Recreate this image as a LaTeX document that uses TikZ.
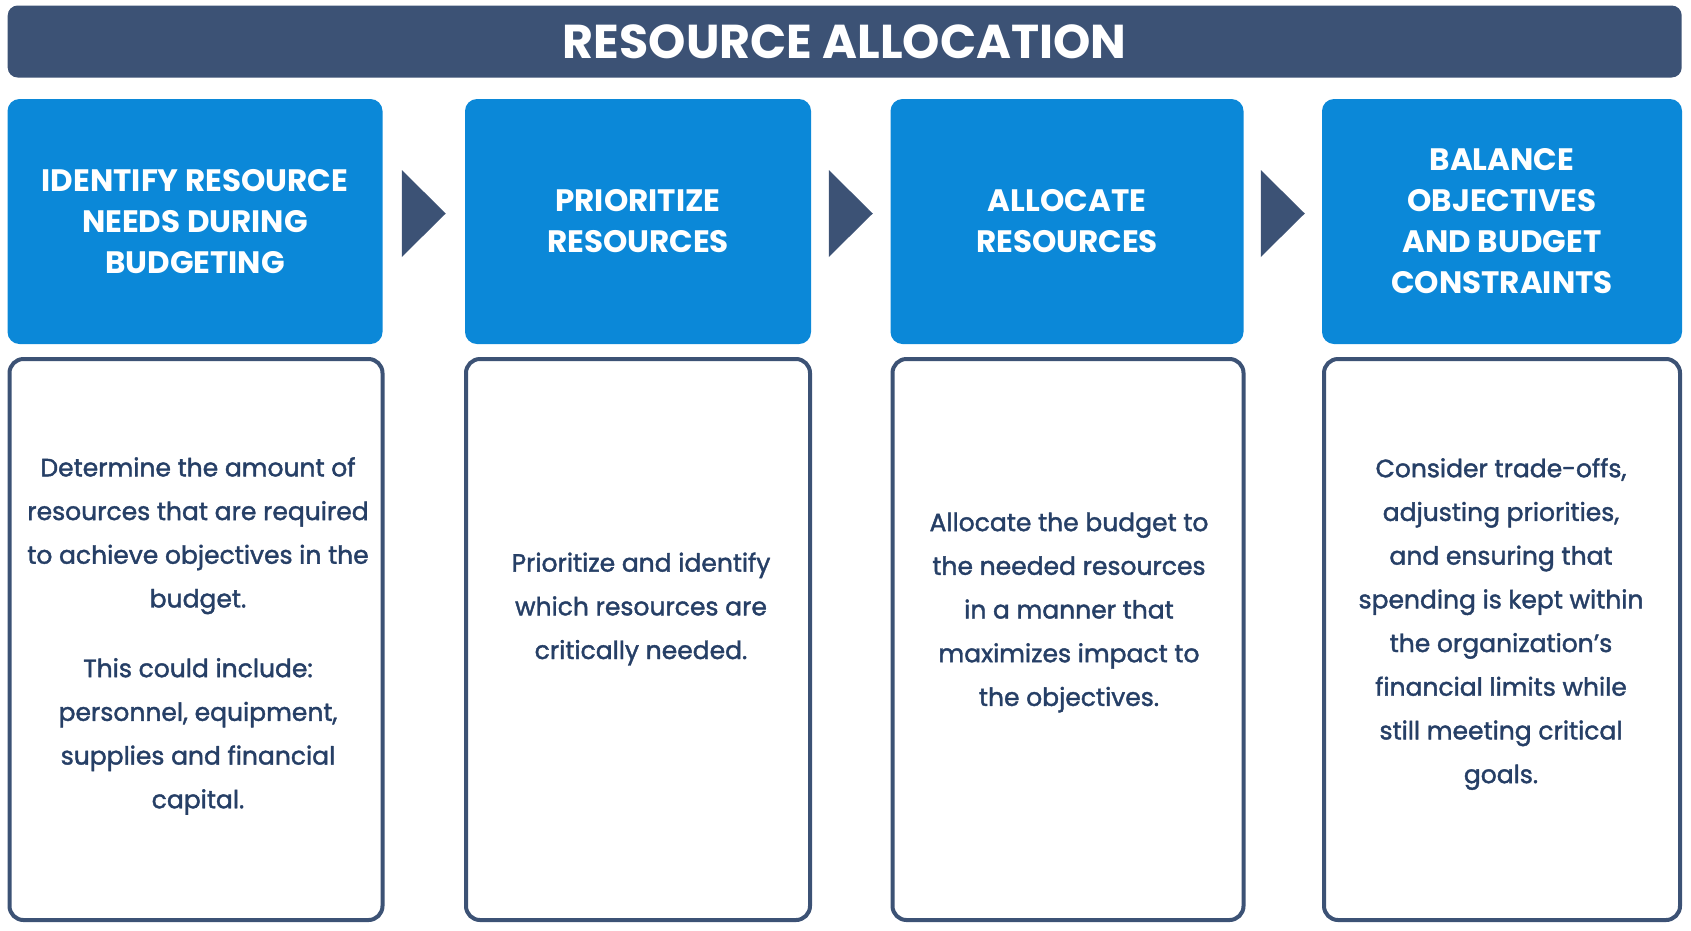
\documentclass[tikz,border=0pt]{standalone}
\usepackage{fontspec}
\setmainfont{Poppins}
\newfontfamily\bodyfont{Poppins}[FakeBold=1.6]
\usetikzlibrary{calc}
\definecolor{navy}{HTML}{3C5275}
\definecolor{skyblue}{HTML}{0B88D8}
\definecolor{inkblue}{HTML}{263F66}
\tikzset{
  head/.style={fill=skyblue, rounded corners=12pt, minimum height=245pt, inner sep=0pt,
    text=white, align=center, font=\bfseries\fontsize{31}{41}\selectfont},
  body/.style={draw=navy, line width=4pt, fill=white, rounded corners=14pt,
    minimum height=561pt, inner sep=0pt},
  bodytext/.style={text=inkblue, align=center, font=\bodyfont\fontsize{25}{43.7}\selectfont},
}
\begin{document}
\begin{tikzpicture}[x=1pt, y=-1pt, line join=round, line cap=round]
  \useasboundingbox (0,0) rectangle (1691,930);
  % Titel
  \node[fill=navy, rounded corners=10pt, minimum width=1674pt, minimum height=72pt,
    text=white, font=\bfseries\fontsize{47.5}{50}\selectfont] (title) at (844.7,41.5) {RESOURCE ALLOCATION};
  % Kopfzeilen
  \node[head, minimum width=375pt] (h1) at (195,221.5) {IDENTIFY RESOURCE\\NEEDS DURING\\BUDGETING};
  \node[head, minimum width=346pt] (h2) at (638,221.5) {PRIORITIZE\\RESOURCES};
  \node[head, minimum width=353pt] (h3) at (1067,221.5) {ALLOCATE\\RESOURCES};
  \node[head, minimum width=360pt] (h4) at (1502,221.5) {BALANCE\\OBJECTIVES\\AND BUDGET\\CONSTRAINTS};
  % Pfeile
  \foreach \a/\b in {h1/h2, h2/h3, h3/h4}
    \fill[navy] ($(\a.east)!0.5!(\b.west)+(-22,-51.5)$) -- ++(44,43.5) -- ++(-44,43.5) -- cycle;
  % Textfelder
  \node[body, minimum width=373pt] (b1) at (196,639.5) {};
  \node[body, minimum width=344pt] (b2) at (638,639.5) {};
  \node[body, minimum width=351pt] (b3) at (1068,639.5) {};
  \node[body, minimum width=356pt] (b4) at (1502,639.5) {};
  \node[bodytext] (t1) at (198,636) {Determine the amount of\\resources that are required\\to achieve objectives in the\\budget.\\[26pt]
    This could include:\\personnel, equipment,\\supplies and financial\\capital.};
  \node[bodytext] (t2) at (641,609) {Prioritize and identify\\which resources are\\critically needed.};
  \node[bodytext] (t3) at (1069,612.5) {Allocate the budget to\\the needed resources\\in a manner that\\maximizes impact to\\the objectives.};
  \node[bodytext] (t4) at (1501,624) {Consider trade-offs,\\adjusting priorities,\\and ensuring that\\spending is kept within\\the organization’s\\financial limits while\\still meeting critical\\goals.};
\end{tikzpicture}
\end{document}
